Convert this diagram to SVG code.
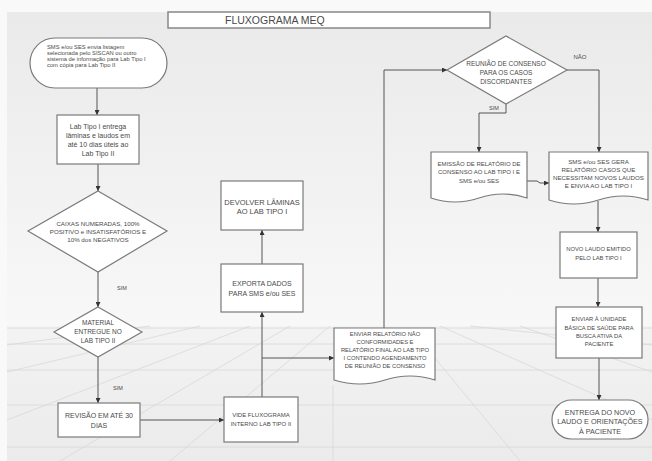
<svg xmlns="http://www.w3.org/2000/svg" width="652" height="461" viewBox="0 0 652 461">
<defs>
<linearGradient id="wall" x1="0" y1="0" x2="0" y2="1">
<stop offset="0" stop-color="#eaeaea"/>
<stop offset="1" stop-color="#f8f8f8"/>
</linearGradient>
<linearGradient id="floor" x1="0" y1="0" x2="0" y2="1">
<stop offset="0" stop-color="#f3f3f3"/>
<stop offset="1" stop-color="#ebebeb"/>
</linearGradient>
<marker id="arr" markerUnits="userSpaceOnUse" markerWidth="5" markerHeight="5" viewBox="0 0 6 6" refX="6" refY="3" orient="auto">
<path d="M0,0 L6,3 L0,6 z" fill="#333"/>
</marker>
<style>
.shape{fill:#fff;stroke:#7a7a7a;stroke-width:1.2}
.t{font-family:"Liberation Sans",Arial,sans-serif;fill:#4a4a4a;text-anchor:middle}
.tl{font-family:"Liberation Sans",Arial,sans-serif;fill:#4a4a4a}
.c{fill:none;stroke:#555;stroke-width:1}
.fl{stroke:#d8d8d8;stroke-width:0.8;fill:none}
</style>
</defs>

<!-- background -->
<rect x="0" y="0" width="652" height="461" fill="#f9f9f9"/>
<rect x="7" y="12" width="645" height="316" fill="url(#wall)"/>
<rect x="7" y="326" width="645" height="135" fill="url(#floor)"/>
<g class="fl">
<path d="M7,328 H652 M7,344 H652 M7,370 H652 M7,405 H652 M7,447 H652"/>
<path d="M250,326 L7,420 M290,326 L60,461 M330,326 L170,461 M200,326 L7,372 M150,326 L7,345"/>
<path d="M440,326 L652,420 M470,326 L652,345 M420,340 L520,461 M520,326 L652,372 M333,385 V461"/>
</g>

<!-- title -->
<g id="title">
<rect x="168" y="12" width="322" height="16" fill="#fff" stroke="#888" stroke-width="1.5"/>
<text class="tl" x="225" y="23.5" font-size="10.5">FLUXOGRAMA MEQ</text>
</g>

<!-- connectors -->
<g id="connectors">
<path class="c" d="M97,88 V115" marker-end="url(#arr)"/>
<path class="c" d="M98,164 V191" marker-end="url(#arr)"/>
<path class="c" d="M98,272 V307" marker-end="url(#arr)"/>
<path class="c" d="M98,357 V403" marker-end="url(#arr)"/>
<path class="c" d="M140,420 H224" marker-end="url(#arr)"/>
<path class="c" d="M262,397 V312" marker-end="url(#arr)"/>
<path class="c" d="M262,358 H334" marker-end="url(#arr)"/>
<path class="c" d="M262,264 V230" marker-end="url(#arr)"/>
<path class="c" d="M384,328 V70 H447" marker-end="url(#arr)"/>
<path class="c" d="M506,104 V113 H479 V152" marker-end="url(#arr)"/>
<path class="c" d="M567,70 H599 V152" marker-end="url(#arr)"/>
<path class="c" d="M527,181 H537 L540,183 H549" marker-end="url(#arr)"/>
<path class="c" d="M598,201 V232" marker-end="url(#arr)"/>
<path class="c" d="M598,278 V307" marker-end="url(#arr)"/>
<path class="c" d="M599,358 V400" stroke-width="1.6" stroke="#333" marker-end="url(#arr)"/>
<text class="t" x="122" y="290" font-size="5.5">SIM</text>
<text class="t" x="118" y="390" font-size="5.5">SIM</text>
<text class="t" x="494" y="110" font-size="5.5">SIM</text>
<text class="t" x="580" y="59" font-size="6">NÃO</text>
</g>

<!-- nodes -->
<g id="n-start">
<rect class="shape" x="30" y="38" width="137" height="50" rx="25"/>
<text class="tl" font-size="5.8"><tspan x="47" y="49">SMS e/ou SES envia listagem</tspan><tspan x="47" y="55">selecionada pelo SISCAN ou outro</tspan><tspan x="47" y="61">sistema de informação para Lab Tipo I</tspan><tspan x="47" y="67">com cópia para Lab Tipo II</tspan></text>
</g>

<g id="n-entrega">
<rect class="shape" x="57" y="115" width="82" height="49"/>
<text class="t" font-size="7"><tspan x="98" y="128.5">Lab Tipo I entrega</tspan><tspan x="98" y="137.5">lâminas e laudos em</tspan><tspan x="98" y="146.5">até 10 dias úteis ao</tspan><tspan x="98" y="155.5">Lab Tipo II</tspan></text>
</g>

<g id="n-caixas">
<polygon class="shape" points="98,191 167,231 98,272 28,231"/>
<text class="t" font-size="6.2"><tspan x="98" y="225.5">CAIXAS NUMERADAS, 100%</tspan><tspan x="98" y="234">POSITIVO e INSATISFATÓRIOS E</tspan><tspan x="98" y="242">10% dos NEGATIVOS</tspan></text>
</g>

<g id="n-material">
<polygon class="shape" points="98,307 142,332 98,357 54,332"/>
<text class="t" font-size="6.5"><tspan x="98" y="324.5">MATERIAL</tspan><tspan x="98" y="333.5">ENTREGUE NO</tspan><tspan x="98" y="342.5">LAB TIPO II</tspan></text>
</g>

<g id="n-revisao">
<rect class="shape" x="58" y="403" width="82" height="34"/>
<text class="t" font-size="7"><tspan x="99" y="417.5">REVISÃO EM ATÉ 30</tspan><tspan x="99" y="427.5">DIAS</tspan></text>
</g>

<g id="n-vide">
<rect class="shape" x="224" y="397" width="74" height="45"/>
<text class="t" font-size="6"><tspan x="261" y="417">VIDE FLUXOGRAMA</tspan><tspan x="261" y="425.5">INTERNO LAB TIPO II</tspan></text>
</g>

<g id="n-exporta">
<rect class="shape" x="221" y="264" width="82" height="48"/>
<text class="t" font-size="7"><tspan x="262" y="285.5">EXPORTA DADOS</tspan><tspan x="262" y="295.5">PARA SMS e/ou SES</tspan></text>
</g>

<g id="n-devolver">
<rect class="shape" x="221" y="181" width="82" height="49"/>
<text class="t" font-size="7.5"><tspan x="262" y="204.5">DEVOLVER LÂMINAS</tspan><tspan x="262" y="213.5">AO LAB TIPO I</tspan></text>
</g>

<g id="n-enviar-relatorio">
<path class="shape" d="M334,328 H435 V380 Q410,372 385,380 T334,380 Z"/>
<text class="t" font-size="5.8"><tspan x="385" y="335.5">ENVIAR RELATÓRIO NÃO</tspan><tspan x="385" y="343.5">CONFORMIDADES E</tspan><tspan x="385" y="351.5">RELATÓRIO FINAL AO LAB TIPO</tspan><tspan x="385" y="359.5">I CONTENDO AGENDAMENTO</tspan><tspan x="385" y="367.5">DE REUNIÃO DE CONSENSO</tspan></text>
</g>

<g id="n-consenso">
<polygon class="shape" points="447,70 506,36 567,70 506,104"/>
<text class="t" font-size="6.5"><tspan x="506" y="65.5">REUNIÃO DE CONSENSO</tspan><tspan x="506" y="74.5">PARA OS CASOS</tspan><tspan x="506" y="83.5">DISCORDANTES</tspan></text>
</g>

<g id="n-emissao">
<path class="shape" d="M431,152 H527 V198 Q503,190 479,198 T431,198 Z"/>
<text class="t" font-size="6"><tspan x="479" y="166">EMISSÃO DE RELATÓRIO DE</tspan><tspan x="479" y="174">CONSENSO AO LAB TIPO I  E</tspan><tspan x="479" y="183">SMS e/ou SES</tspan></text>
</g>

<g id="n-sms-gera">
<path class="shape" d="M549,152 H648 V200 Q623,192 598.5,200 T549,200 Z"/>
<text class="t" font-size="6.2"><tspan x="598.5" y="164">SMS e/ou SES GERA</tspan><tspan x="598.5" y="172">RELATÓRIO CASOS QUE</tspan><tspan x="598.5" y="179.5">NECESSITAM NOVOS LAUDOS</tspan><tspan x="598.5" y="187.5">E ENVIA AO LAB TIPO I</tspan></text>
</g>

<g id="n-novo-laudo">
<rect class="shape" x="560" y="232" width="77" height="46"/>
<text class="t" font-size="5.8"><tspan x="598.5" y="251">NOVO LAUDO EMITIDO</tspan><tspan x="598.5" y="260">PELO LAB TIPO I</tspan></text>
</g>

<g id="n-enviar-ubs">
<rect class="shape" x="556" y="307" width="86" height="51"/>
<text class="t" font-size="5.8"><tspan x="599" y="321">ENVIAR À UNIDADE</tspan><tspan x="599" y="330">BÁSICA DE SAÚDE PARA</tspan><tspan x="599" y="338">BUSCA ATIVA DA</tspan><tspan x="599" y="345.5">PACIENTE</tspan></text>
</g>

<g id="n-fim">
<rect class="shape" x="552" y="400" width="96" height="39" rx="19.5"/>
<text class="t" font-size="7.2"><tspan x="600" y="414.5">ENTREGA DO NOVO</tspan><tspan x="600" y="423.5">LAUDO E ORIENTAÇÕES</tspan><tspan x="600" y="433.5">À PACIENTE</tspan></text>
</g>
</svg>
